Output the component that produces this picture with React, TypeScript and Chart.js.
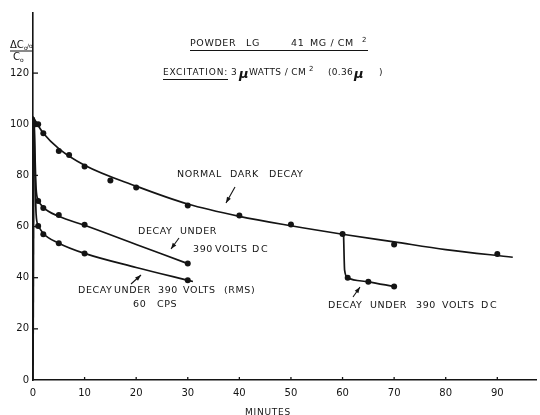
import React, { useEffect, useRef } from 'react';
import { Chart, registerables } from 'chart.js';
Chart.register(...registerables);

// ---- data ----
const xTicks = [0, 10, 20, 30, 40, 50, 60, 70, 80, 90];
const yTicks = [0, 20, 40, 60, 80, 100, 120];

// Normal dark decay: measured points
const darkX = [0.5, 1, 2, 5, 7, 10, 15, 20, 30, 40, 50, 60, 70, 90];
const darkY = [100, 100, 96.5, 89.5, 88, 83.5, 78, 75.3, 68.2, 64.3, 60.8, 57.1, 53, 49.3];
// Normal dark decay: hand-drawn curve
const darkCurveX = [0, 1, 2, 5, 10, 20, 30, 40, 50, 60, 70, 80, 93];
const darkCurveY = [103, 99.5, 96.5, 90.5, 84, 75.8, 68.8, 64, 60.3, 57, 54, 51, 48];

// Decay under 390 V DC (from t=0)
const dcX = [1, 2, 5, 10, 30];
const dcY = [70, 67.3, 64.5, 60.7, 45.6];
const dcCurveX = [0.2, 0.6, 1, 2, 5, 10, 20, 30];
const dcCurveY = [102.5, 75, 70.5, 67.5, 64, 60.5, 53, 45.5];

// Decay under 390 V RMS 60 cps
const acX = [1, 2, 5, 10, 30];
const acY = [60.2, 57, 53.5, 49.5, 39];
const acCurveX = [0.2, 0.6, 1, 2, 5, 10, 20, 31];
const acCurveY = [102.5, 65, 60.5, 57.3, 53.5, 49.5, 44, 38.5];

// initial rise at t = 0
const riseX = [0, 0.2];
const riseY = [0, 102.5];

// Decay under 390 V DC applied at 60 min
const dc60X = [61, 65, 70];
const dc60Y = [40, 38.4, 36.6];
const dc60CurveX = [60.2, 60.4, 61, 65, 70];
const dc60CurveY = [57, 43, 40, 38.4, 36.6];

const toPts = (xs: number[], ys: number[]) => xs.map((x, i) => ({ x, y: ys[i] }));

const INK = '#141414';
const FONT = '"DejaVu Sans", "Liberation Sans", sans-serif';

type Word = { t: string; x: number; y: number; size?: number };
const words: Word[] = [
  // normal dark decay
  { t: 'NORMAL', x: 177, y: 175 }, { t: 'DARK', x: 230, y: 175 }, { t: 'DECAY', x: 269, y: 175 },
  // middle label
  { t: 'DECAY', x: 138, y: 232 }, { t: 'UNDER', x: 180, y: 232 },
  { t: '390', x: 193, y: 250 }, { t: 'VOLTS', x: 215, y: 250 }, { t: 'D', x: 252, y: 250 }, { t: 'C', x: 261, y: 250 },
  // bottom label
  { t: 'DECAY', x: 78, y: 291 }, { t: 'UNDER', x: 114, y: 291 }, { t: '390', x: 158, y: 291 },
  { t: 'VOLTS', x: 183, y: 291 }, { t: '(RMS)', x: 224, y: 291 },
  { t: '60', x: 133, y: 305 }, { t: 'CPS', x: 157, y: 305 },
  // lower right label
  { t: 'DECAY', x: 328, y: 306 }, { t: 'UNDER', x: 370, y: 306 }, { t: '390', x: 416, y: 306 },
  { t: 'VOLTS', x: 442, y: 306 }, { t: 'D', x: 481, y: 306 }, { t: 'C', x: 490, y: 306 },
];
// arrows: tail -> head (pixels)
const arrows = [
  { x1: 235, y1: 187, x2: 226, y2: 203 },
  { x1: 179, y1: 238, x2: 171, y2: 249 },
  { x1: 131, y1: 284, x2: 141, y2: 275 },
  { x1: 353, y1: 297, x2: 360, y2: 287 },
];

const decorPlugin = {
  id: 'decor',
  afterDraw(chart: any) {
    const ctx = chart.ctx as CanvasRenderingContext2D;
    const xs = chart.scales.x;
    const ys = chart.scales.y;
    const area = chart.chartArea;
    ctx.save();
    ctx.strokeStyle = INK;
    ctx.fillStyle = INK;
    // inward tick marks
    ctx.lineWidth = 1.3;
    yTicks.forEach((v) => {
      if (v === 0) return;
      const py = ys.getPixelForValue(v);
      ctx.beginPath();
      ctx.moveTo(area.left, py);
      ctx.lineTo(area.left + 5, py);
      ctx.stroke();
    });
    xTicks.forEach((v) => {
      if (v === 0) return;
      const px = xs.getPixelForValue(v);
      ctx.beginPath();
      ctx.moveTo(px, area.bottom);
      ctx.lineTo(px, area.bottom - 3);
      ctx.stroke();
    });

    const setFont = (size: number, spacing = 0.5, extra = '') => {
      ctx.font = `${extra}${size}px ${FONT}`;
      (ctx as any).letterSpacing = `${spacing}px`;
    };
    ctx.textBaseline = 'middle';
    ctx.textAlign = 'left';

    // word annotations
    words.forEach((w) => {
      setFont(w.size || 9.5, 0.6);
      ctx.fillText(w.t, w.x, w.y);
    });

    // arrows
    arrows.forEach((a) => {
      ctx.lineWidth = 1.1;
      ctx.beginPath();
      ctx.moveTo(a.x1, a.y1);
      ctx.lineTo(a.x2, a.y2);
      ctx.stroke();
      const ang = Math.atan2(a.y2 - a.y1, a.x2 - a.x1);
      const L = 6, W = 2.2;
      ctx.beginPath();
      ctx.moveTo(a.x2, a.y2);
      ctx.lineTo(a.x2 - L * Math.cos(ang) - W * Math.sin(ang), a.y2 - L * Math.sin(ang) + W * Math.cos(ang));
      ctx.lineTo(a.x2 - L * Math.cos(ang) + W * Math.sin(ang), a.y2 - L * Math.sin(ang) - W * Math.cos(ang));
      ctx.closePath();
      ctx.fill();
    });

    // title line 1
    setFont(9.5, 0.6);
    ctx.fillText('POWDER', 190, 44);
    ctx.fillText('LG', 246, 44);
    ctx.fillText('41', 291, 44);
    ctx.fillText('MG / CM', 310, 44);
    setFont(7, 0);
    ctx.fillText('2', 362, 40);
    ctx.lineWidth = 1;
    ctx.beginPath();
    ctx.moveTo(190, 50.5);
    ctx.lineTo(368, 50.5);
    ctx.stroke();

    // title line 2
    setFont(9, 0.9);
    ctx.fillText('EXCITATION:', 163, 73);
    ctx.beginPath();
    ctx.moveTo(163, 79.5);
    ctx.lineTo(228, 79.5);
    ctx.stroke();
    setFont(9, 0.4);
    ctx.fillText('3', 231, 73);
    setFont(13, 0, 'italic bold ');
    ctx.fillText('\u03BC', 239, 75);
    setFont(9, 0.4);
    ctx.fillText('WATTS / CM', 249, 73);
    setFont(7, 0);
    ctx.fillText('2', 309, 69);
    setFont(9, 0.3);
    ctx.fillText('(0.36', 328, 73);
    setFont(13, 0, 'italic bold ');
    ctx.fillText('\u03BC', 354, 75);
    setFont(9, 0);
    ctx.fillText(')', 379, 73);

    // y axis label  ΔC0% / C0
    setFont(10, 0);
    ctx.fillText('\u0394C', 10, 45);
    setFont(6, 0);
    ctx.fillText('o', 24, 48);
    ctx.fillText('/o', 27, 46);
    ctx.lineWidth = 1;
    ctx.beginPath();
    ctx.moveTo(10, 51);
    ctx.lineTo(32, 51);
    ctx.stroke();
    setFont(10, 0);
    ctx.fillText('C', 13, 57);
    setFont(6, 0);
    ctx.fillText('o', 20, 60);

    // x axis title
    setFont(9, 0.8);
    ctx.textAlign = 'center';
    ctx.textBaseline = 'top';
    ctx.fillText('MINUTES', 268, 408);
    ctx.restore();
  },
};

export default function App() {
  const ref = useRef<HTMLCanvasElement>(null);
  useEffect(() => {
    if (!ref.current) return;
    Chart.defaults.font.family = FONT;
    const curve = (xs: number[], ys: number[], mono = true) => ({
      data: toPts(xs, ys),
      showLine: true,
      pointRadius: 0,
      borderColor: INK,
      borderWidth: 1.7,
      cubicInterpolationMode: mono ? ('monotone' as const) : ('default' as const),
      tension: 0,
      fill: false,
    });
    const dots = (xs: number[], ys: number[]) => ({
      data: toPts(xs, ys),
      showLine: false,
      pointRadius: 3,
      pointBackgroundColor: INK,
      pointBorderWidth: 0,
      borderColor: INK,
    });
    const chart = new Chart(ref.current, {
      type: 'scatter',
      data: {
        datasets: [
          curve(riseX, riseY, false),
          curve(darkCurveX, darkCurveY),
          curve(dcCurveX, dcCurveY),
          curve(acCurveX, acCurveY),
          curve(dc60CurveX, dc60CurveY),
          dots(darkX, darkY),
          dots(dcX, dcY),
          dots(acX, acY),
          dots(dc60X, dc60Y),
        ] as any,
      },
      options: {
        animation: false,
        responsive: false,
        devicePixelRatio: 1,
        layout: { padding: { top: 13, left: 0, right: 0, bottom: 0 } },
        plugins: { legend: { display: false }, tooltip: { enabled: false } },
        scales: {
          x: {
            type: 'linear',
            min: 0,
            max: 97.5,
            afterBuildTicks: (s: any) => { s.ticks = xTicks.map((v) => ({ value: v })); },
            afterFit: (s: any) => { s.height = 35; },
            grid: { drawOnChartArea: false, drawTicks: false },
            border: { display: true, color: INK, width: 1.5 },
            ticks: { padding: 7, color: INK, font: { size: 10 }, maxRotation: 0, autoSkip: false },
          },
          y: {
            type: 'linear',
            min: 0,
            max: 143.5,
            afterBuildTicks: (s: any) => { s.ticks = yTicks.map((v) => ({ value: v })); },
            afterFit: (s: any) => { s.width = 33; },
            grid: { drawOnChartArea: false, drawTicks: false },
            border: { display: true, color: INK, width: 1.6 },
            ticks: { padding: 4, color: INK, font: { size: 10 } },
          },
        },
      },
      plugins: [decorPlugin],
    });
    return () => chart.destroy();
  }, []);
  return (
    <div style={{ position: 'absolute', left: 0, top: 0, width: 540, height: 415, background: '#fff' }}>
      <canvas ref={ref} width={540} height={415} />
    </div>
  );
}
